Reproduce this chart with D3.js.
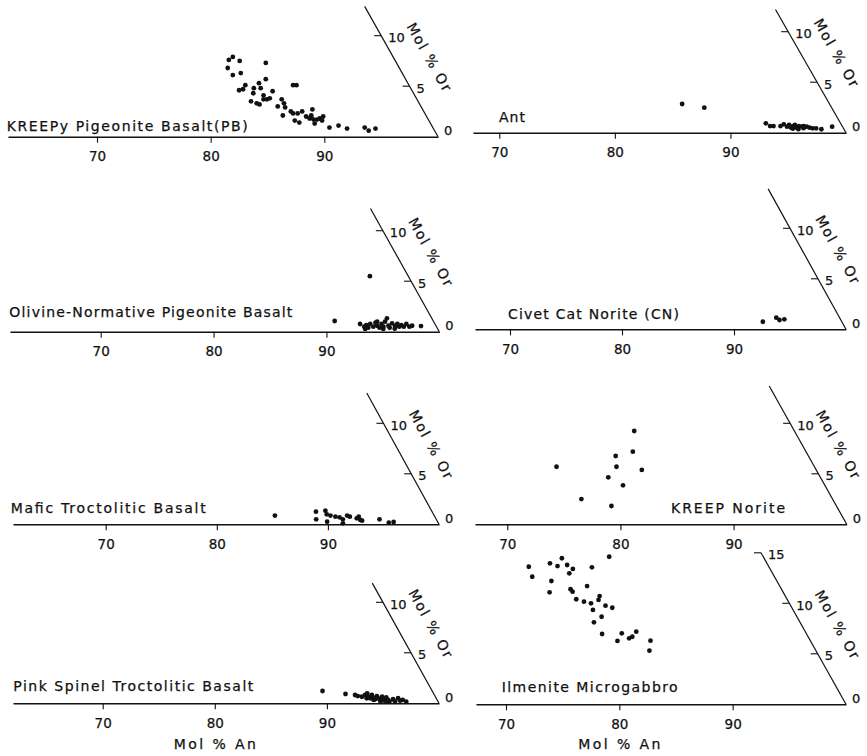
<!DOCTYPE html>
<html>
<head>
<meta charset="utf-8">
<script src="https://cdn.jsdelivr.net/npm/d3@7"></script>
<style>
  body { margin: 0; background: #fff; }
  svg { display: block; }
  text { font-family: "DejaVu Sans", sans-serif; fill: #111; stroke: #111; stroke-width: 0.25; }
</style>
</head>
<body>
<div id="chart"></div>
<script>
// ---- data: [Mol % An, Mol % Or] ----
var anTicks = [70, 80, 90];
var orTicks = [0, 5, 10];
var orTicksIlm = [0, 5, 10, 15];

var titles = [
  "KREEPy Pigeonite Basalt(PB)",
  "Ant",
  "Olivine-Normative Pigeonite Basalt",
  "Civet Cat Norite (CN)",
  "Mafic Troctolitic Basalt",
  "KREEP Norite",
  "Pink Spinel Troctolitic Basalt",
  "Ilmenite Microgabbro"
];

var pbPoints = [[78.0,7.9],[77.8,7.6],[78.8,7.5],[78.1,6.8],[78.9,6.1],[79.5,6.3],[81.2,7.3],[80.5,5.1],
  [80.2,4.6],[80.5,4.7],[81.4,4.8],[81.6,5.3],[82.0,5.7],[82.0,4.8],[81.6,4.3],[83.2,4.5],[82.6,4.1],
  [81.8,3.5],[82.4,3.3],[82.7,3.2],[82.8,3.7],[83.1,3.7],[83.3,3.8],[84.4,3.7],[84.8,3.3],[84.4,3.0],
  [85.1,2.9],[85.3,2.1],[84.7,5.1],[85.0,5.1],[85.8,2.5],[86.1,2.3],[86.5,2.3],[86.8,2.5],[87.6,2.7],
  [86.6,1.6],[87.1,1.4],[87.4,2.0],[87.8,1.8],[87.9,1.9],[88.2,1.7],[88.5,1.7],[88.7,1.8],[88.9,2.0],
  [89.0,1.6],[88.5,1.3],[90.0,0.9],[90.7,1.1],[91.6,0.8],[93.1,0.9],[93.6,0.6],[94.1,0.8],[87.8,2.1]];

var antPoints = [[84.4,2.84],[86.5,2.48],[92.6,0.93],[93.1,0.66],[93.4,0.66],[94.0,0.66],[94.2,0.83],
  [94.6,0.6],[94.7,0.76],[95.0,0.5],[95.1,0.66],[95.2,0.76],[95.5,0.5],[95.6,0.66],[95.9,0.6],[96.0,0.66],
  [96.3,0.6],[96.6,0.5],[96.9,0.43],[97.2,0.43],[97.7,0.34],[98.5,0.6],[95.2,0.4],[95.7,0.35],[96.1,0.45]];

var olPbPoints = [[91.1,5.5],[90.2,1.06],[92.6,0.76],[93.1,0.5],[93.2,0.66],[93.5,0.4],[93.5,0.76],
  [93.9,0.5],[93.9,0.89],[94.2,0.59],[94.5,0.4],[94.5,0.76],[94.8,0.5],[94.7,0.99],[94.7,1.32],[95.2,0.59],
  [95.4,0.4],[95.4,0.83],[95.8,0.56],[95.9,0.76],[96.2,0.5],[96.3,0.66],[96.6,0.5],[96.7,0.76],[97.1,0.5],
  [97.3,0.59],[98.1,0.56],[93.3,0.27],[94.9,0.27],[95.9,0.3],[94.0,0.99]];

var cnPoints = [[92.2,0.75],[93.2,1.15],[93.6,0.92],[94.0,0.99]];

var mtbPoints = [[84.8,0.86],[88.3,1.25],[88.7,0.49],[89.1,1.35],[89.4,0.99],[89.8,0.26],[89.8,0.86],
  [90.3,0.75],[90.7,0.69],[91.1,0.49],[91.3,0.1],[91.3,0.86],[91.6,0.75],[92.3,0.59],[92.4,0.75],
  [92.7,0.43],[92.9,0.36],[94.4,0.49],[95.4,0.16],[95.8,0.23]];

var knPoints = [[76.6,9.24],[77.5,7.19],[76.2,6.76],[76.8,5.70],[71.5,5.70],[79.2,5.38],[76.6,4.65],
  [78.3,3.86],[75.3,2.5],[78.3,1.81]];

var pstbPoints = [[89.0,1.22],[91.2,0.92],[92.1,0.82],[92.4,0.72],[92.8,0.65],[93.0,0.82],[93.1,0.99],
  [93.4,0.65],[93.6,0.5],[93.6,0.82],[93.8,0.59],[94.1,0.4],[94.1,0.72],[94.3,0.5],[94.6,0.33],[94.6,0.65],
  [94.8,0.43],[95.0,0.26],[95.0,0.59],[95.3,0.33],[95.5,0.16],[95.7,0.4],[96.0,0.16],[96.1,0.5],[96.4,0.26],
  [96.6,0.33],[97.0,0.16],[94.0,0.33],[94.7,0.16],[93.3,0.5],[95.3,0.16]];

var imPoints = [[65.2,13.62],[66.0,12.63],[66.9,13.96],[67.7,13.69],[68.5,13.79],[69.1,12.97],[69.2,13.40],
  [70.8,13.56],[67.9,12.21],[68.3,11.09],[71.3,11.71],[70.0,11.39],[70.3,11.15],[71.0,10.40],[71.8,10.16],
  [72.5,10.0],[73.0,9.34],[72.9,10.72],[73.0,10.33],[73.9,9.76],[74.6,9.56],[74.1,8.67],[73.7,8.12],
  [75.0,6.96],[76.7,6.27],[76.7,7.03],[77.6,6.53],[77.8,6.69],[77.9,7.19],[79.6,6.30],[80.0,5.31],
  [67.7,14.46],[71.8,14.61]];

var panelPoints = [pbPoints, antPoints, olPbPoints, cnPoints, mtbPoints, knPoints, pstbPoints, imPoints];
var panelOrTicks = [orTicks, orTicks, orTicks, orTicks, orTicks, orTicks, orTicks, orTicksIlm];

// ---- layout (pixel geometry of each small diagram) ----
var layout = [
  { y0: 136.7, x70: 97,    x100: 438,   xStart: 8,   orTop: 12.9, tx: 6.7,   ty: 131,   tw: 241 },
  { y0: 132.7, x70: 499.3, x100: 846,   xStart: 473, orTop: 12.2, tx: 499,   ty: 121.7, tw: 26 },
  { y0: 331.7, x70: 100.7, x100: 439.3, xStart: 10,  orTop: 12.2, tx: 9.3,   ty: 317.3, tw: 283 },
  { y0: 329.3, x70: 510,   x100: 846,   xStart: 475, orTop: 13.9, tx: 508,   ty: 319.3, tw: 171 },
  { y0: 524.3, x70: 105.7, x100: 439,   xStart: 13,  orTop: 13,   tx: 10.7,  ty: 512.7, tw: 195 },
  { y0: 524.3, x70: 507.3, x100: 846.7, xStart: 475, orTop: 13.7, tx: 671,   ty: 513.3, tw: 114 },
  { y0: 703.3, x70: 102.7, x100: 439,   xStart: 13,  orTop: 11.9, tx: 13.3,  ty: 691,   tw: 240 },
  { y0: 704.3, x70: 506,   x100: 846,   xStart: 476, orTop: 15,   tx: 501.7, ty: 691.7, tw: 176 }
];
var orPx = 10.1;   // vertical pixels per mol % Or

var width = 867, height = 756;
var svg = d3.select("#chart").append("svg")
    .attr("width", width)
    .attr("height", height);

layout.forEach(function(L, i) {
  var s = (L.x100 - L.x70) / 30;
  var anStart = 70 - (L.x70 - L.xStart) / s;
  var x = d3.scaleLinear().domain([anStart, 100]).range([L.xStart, L.x100]);
  var y = d3.scaleLinear().domain([0, 1]).range([L.y0, L.y0 - orPx]);

  // ternary placement: horizontal = An + Or/2, height = Or
  function px(d) { return x(d[0] + d[1] / 2); }
  function py(d) { return y(d[1]); }

  var g = svg.append("g");

  // An axis
  var ax = g.append("g")
      .attr("transform", "translate(0," + L.y0 + ")")
      .call(d3.axisBottom(x).tickValues(anTicks).tickSize(6).tickSizeOuter(0).tickPadding(9));
  ax.select(".domain").attr("stroke", "#111").attr("stroke-width", 1.4);
  ax.selectAll(".tick line").attr("stroke", "#111").attr("stroke-width", 1.1);
  ax.selectAll(".tick text")
      .attr("font-size", 13.5)
      .attr("font-family", "DejaVu Sans, sans-serif")
      .attr("fill", "#111");

  // Or axis, the An-Or side of the triangle
  var oTop = L.orTop;
  var side = function(o) { return [x(100 - o / 2), y(o)]; };
  var a0 = side(0), a1 = side(oTop);
  g.append("line")
      .attr("x1", a0[0]).attr("y1", a0[1])
      .attr("x2", a1[0]).attr("y2", a1[1])
      .attr("stroke", "#111").attr("stroke-width", 1.2);

  panelOrTicks[i].forEach(function(t) {
    var p = side(t);
    if (t > 0) {
      g.append("line")
          .attr("x1", p[0] - 7).attr("y1", p[1])
          .attr("x2", p[0]).attr("y2", p[1])
          .attr("stroke", "#111").attr("stroke-width", 1.1);
      g.append("text")
          .attr("x", p[0] + 7).attr("y", p[1] + 2)
          .attr("dy", "0.35em")
          .attr("font-size", 13)
          .text(t);
    } else {
      g.append("text")
          .attr("x", p[0] + 6).attr("y", p[1] - 6)
          .attr("dy", "0.35em")
          .attr("font-size", 13)
          .text(t);
    }
  });

  // rotated "Mol % Or" parallel to the side
  var ang = Math.atan2(orPx, s / 2) * 180 / Math.PI;
  var lp = side(7.9);
  g.append("text")
      .attr("transform", "translate(" + (lp[0] + 36) + "," + lp[1] + ") rotate(" + ang + ")")
      .attr("text-anchor", "middle")
      .attr("dy", "0.35em")
      .attr("font-size", 14)
      .attr("textLength", 76)
      .attr("lengthAdjust", "spacing")
      .text("Mol % Or");

  // title
  g.append("text")
      .attr("x", L.tx).attr("y", L.ty)
      .attr("font-size", 14)
      .attr("textLength", L.tw)
      .attr("lengthAdjust", "spacing")
      .text(titles[i]);

  // points
  g.selectAll("circle")
      .data(panelPoints[i])
      .enter().append("circle")
      .attr("cx", px)
      .attr("cy", py)
      .attr("r", 2.4)
      .attr("fill", "#111");

  // bottom row gets the An label
  if (i >= 6) {
    g.append("text")
        .attr("x", x(80)).attr("y", 749)
        .attr("text-anchor", "middle")
        .attr("font-size", 14)
        .attr("textLength", 82)
        .attr("lengthAdjust", "spacing")
        .text("Mol % An");
  }
});
</script>
</body>
</html>
